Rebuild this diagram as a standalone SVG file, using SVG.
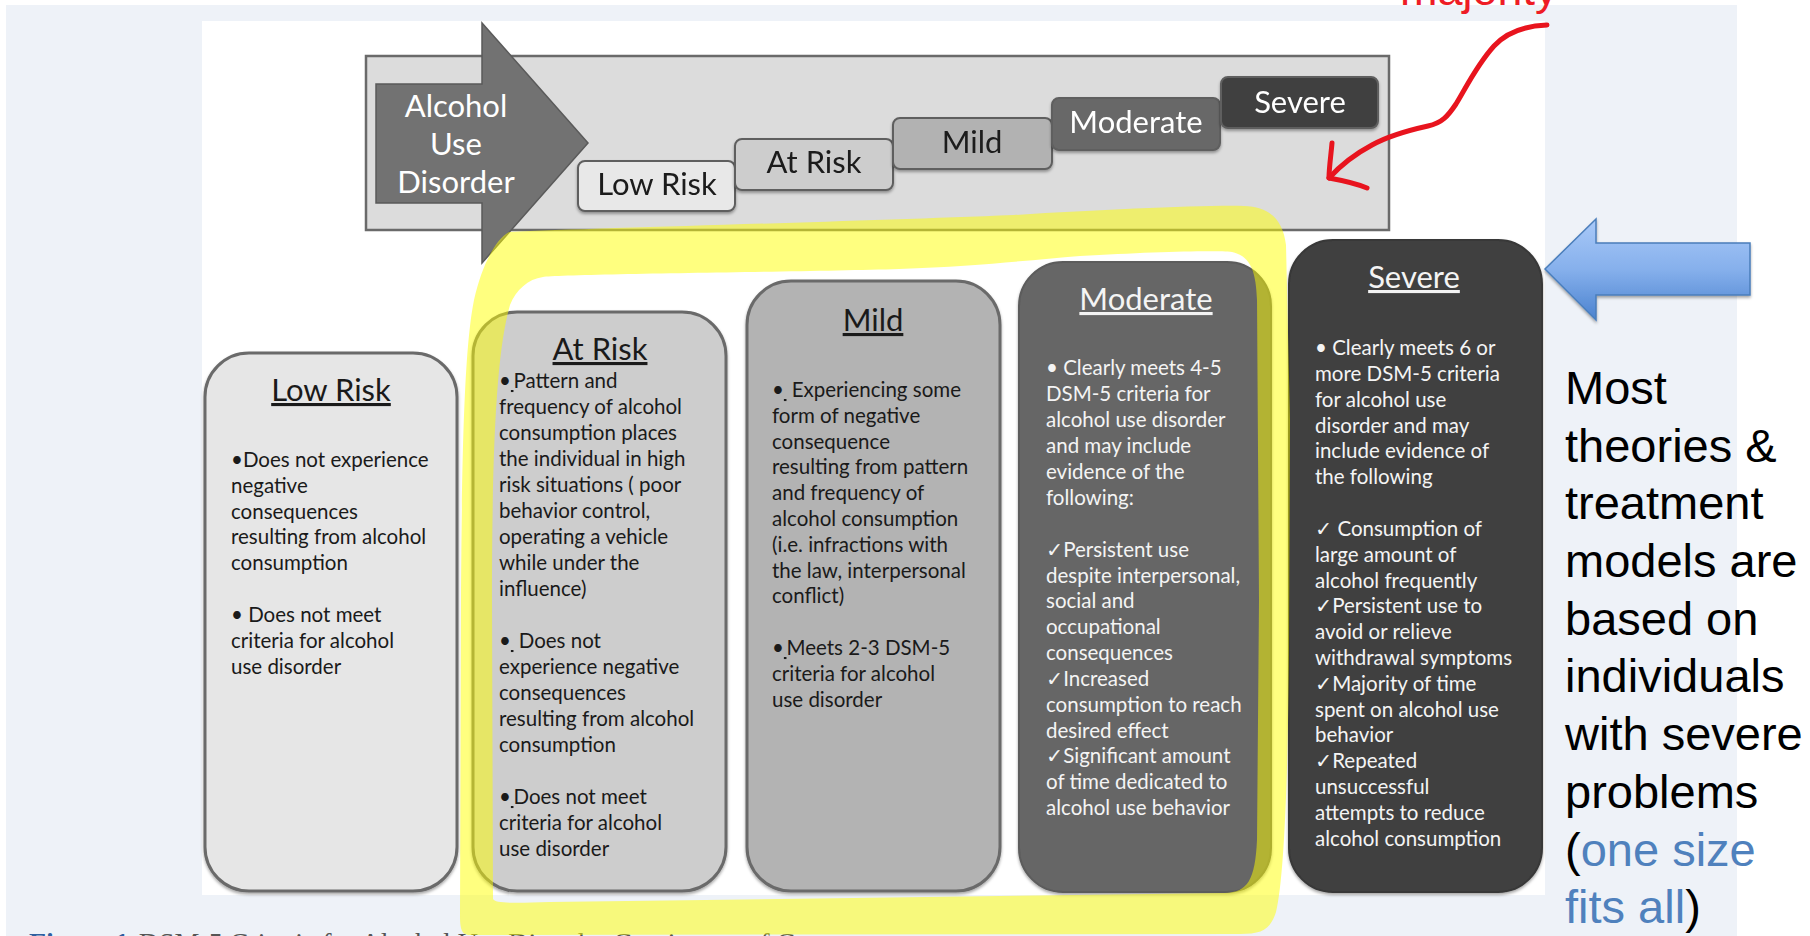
<svg xmlns="http://www.w3.org/2000/svg" width="1810" height="936" viewBox="0 0 1810 936">
<style>
.lbl{font-family:Lato,"Open Sans",sans-serif;font-size:31px;text-anchor:middle}
.title{font-family:Lato,"Open Sans",sans-serif;font-size:31px;text-anchor:middle;text-decoration:underline}
.body{font-family:Lato,"Open Sans","DejaVu Sans",sans-serif;font-size:20.5px}
.dk{fill:#1a1a1a}
.wt{fill:#f4f4f4}
.band{stroke:#5e5e5e;stroke-width:2}
.card{stroke:#6a6a6a;stroke-width:3}
.big{font-family:"Liberation Sans",Arial,sans-serif;font-size:47px;fill:#000}
.cap{font-family:"Liberation Serif","Times New Roman",serif;font-size:28px}
</style>
<defs>
<linearGradient id="blueGrad" x1="0" y1="0" x2="0" y2="1">
<stop offset="0" stop-color="#a9c9f8"/>
<stop offset="0.5" stop-color="#86b0ec"/>
<stop offset="1" stop-color="#4a82cf"/>
</linearGradient>
<filter id="sh" x="-10%" y="-10%" width="120%" height="130%">
<feDropShadow dx="0" dy="2" stdDeviation="1.5" flood-color="#000" flood-opacity="0.35"/>
</filter>
</defs>

<!-- slide background -->
<rect x="0" y="0" width="1810" height="936" fill="#ffffff"/>
<rect x="6" y="5" width="1731" height="931" fill="#eef2f8"/>
<rect x="202" y="21" width="1343" height="874" fill="#ffffff"/>

<!-- top band -->
<g id="band">
<rect x="366" y="56" width="1023" height="174" fill="#dcdcdc" stroke="#6a6a6a" stroke-width="2.5"/>
</g>

<g id="aud-arrow">
<polygon points="376,84 482,84 482,23 588,143 482,263 482,203 376,203" fill="#727272" stroke="#5a5a5a" stroke-width="1.5"/>
<text class="lbl" fill="#ffffff" x="456" y="117">Alcohol</text>
<text class="lbl" fill="#ffffff" x="456" y="155">Use</text>
<text class="lbl" fill="#ffffff" x="456" y="193">Disorder</text>
</g>

<g id="step-lowrisk" filter="url(#sh)">
<rect class="band" x="578" y="161" width="157" height="50" rx="7" fill="#e8e8e8"/>
<text class="lbl dk" x="657" y="195">Low Risk</text>
</g>
<g id="step-atrisk" filter="url(#sh)">
<rect class="band" x="735" y="139" width="158" height="51" rx="7" fill="#cdcdcd"/>
<text class="lbl dk" x="814" y="173">At Risk</text>
</g>
<g id="step-mild" filter="url(#sh)">
<rect class="band" x="893" y="118" width="159" height="51" rx="7" fill="#b2b2b2"/>
<text class="lbl dk" x="972" y="153">Mild</text>
</g>
<g id="step-moderate" filter="url(#sh)">
<rect class="band" x="1052" y="98" width="168" height="52" rx="7" fill="#686868"/>
<text class="lbl" fill="#ffffff" x="1136" y="133">Moderate</text>
</g>
<g id="step-severe" filter="url(#sh)">
<rect class="band" x="1221" y="77" width="157" height="51" rx="7" fill="#404040" stroke="#333"/>
<text class="lbl" fill="#ffffff" x="1300" y="113">Severe</text>
</g>

<!-- cards -->
<g id="card-lowrisk">
<rect class="card" x="205" y="353" width="252" height="538" rx="44" fill="#e6e6e6" filter="url(#sh)"/>
<text class="title dk" x="331" y="401">Low Risk</text>
<text class="body dk">
<tspan x="231" y="467">•Does not experience</tspan>
<tspan x="231" y="493">negative</tspan>
<tspan x="231" y="519">consequences</tspan>
<tspan x="231" y="544">resulting from alcohol</tspan>
<tspan x="231" y="570">consumption</tspan>
<tspan x="231" y="622">•  Does not meet</tspan>
<tspan x="231" y="648">criteria for alcohol</tspan>
<tspan x="231" y="674">use disorder</tspan>
</text>
</g>

<g id="card-atrisk">
<rect class="card" x="473" y="312" width="253" height="579" rx="44" fill="#cdcdcd" filter="url(#sh)"/>
<text class="title dk" x="600" y="360">At Risk</text>
<text class="body dk">
<tspan x="499" y="388">•<tspan text-decoration="underline">&#8201;</tspan>Pattern and</tspan>
<tspan x="499" y="414">frequency of alcohol</tspan>
<tspan x="499" y="440">consumption places</tspan>
<tspan x="499" y="466">the individual in high</tspan>
<tspan x="499" y="492">risk situations ( poor</tspan>
<tspan x="499" y="518">behavior control,</tspan>
<tspan x="499" y="544">operating a vehicle</tspan>
<tspan x="499" y="570">while under the</tspan>
<tspan x="499" y="596">influence)</tspan>
<tspan x="499" y="648">•<tspan text-decoration="underline">&#8201;</tspan> Does not</tspan>
<tspan x="499" y="674">experience negative</tspan>
<tspan x="499" y="700">consequences</tspan>
<tspan x="499" y="726">resulting from alcohol</tspan>
<tspan x="499" y="752">consumption</tspan>
<tspan x="499" y="804">•<tspan text-decoration="underline">&#8201;</tspan>Does not meet</tspan>
<tspan x="499" y="830">criteria for alcohol</tspan>
<tspan x="499" y="856">use disorder</tspan>
</text>
</g>

<g id="card-mild">
<rect class="card" x="747" y="281" width="253" height="610" rx="44" fill="#b3b3b3" filter="url(#sh)"/>
<text class="title dk" x="873" y="331">Mild</text>
<text class="body dk">
<tspan x="772" y="397">•<tspan text-decoration="underline">&#8201;</tspan> Experiencing some</tspan>
<tspan x="772" y="423">form of negative</tspan>
<tspan x="772" y="449">consequence</tspan>
<tspan x="772" y="474">resulting from pattern</tspan>
<tspan x="772" y="500">and frequency of</tspan>
<tspan x="772" y="526">alcohol consumption</tspan>
<tspan x="772" y="552">(i.e. infractions with</tspan>
<tspan x="772" y="578">the law, interpersonal</tspan>
<tspan x="772" y="603">conflict)</tspan>
<tspan x="772" y="655">•<tspan text-decoration="underline">&#8201;</tspan>Meets 2-3 DSM-5</tspan>
<tspan x="772" y="681">criteria for alcohol</tspan>
<tspan x="772" y="707">use disorder</tspan>
</text>
</g>

<g id="card-moderate">
<rect x="1019" y="262" width="252" height="630" rx="44" fill="#666666" stroke="#5c5c5c" stroke-width="2" filter="url(#sh)"/>
<text class="title wt" x="1146" y="310">Moderate</text>
<text class="body wt">
<tspan x="1046" y="375">• Clearly meets  4-5</tspan>
<tspan x="1046" y="401">DSM-5 criteria for</tspan>
<tspan x="1046" y="427">alcohol use disorder</tspan>
<tspan x="1046" y="453">and may include</tspan>
<tspan x="1046" y="479">evidence of the</tspan>
<tspan x="1046" y="505">following:</tspan>
<tspan x="1046" y="557">✓Persistent use</tspan>
<tspan x="1046" y="583">despite interpersonal,</tspan>
<tspan x="1046" y="608">social and</tspan>
<tspan x="1046" y="634">occupational</tspan>
<tspan x="1046" y="660">consequences</tspan>
<tspan x="1046" y="686">✓Increased</tspan>
<tspan x="1046" y="712">consumption to reach</tspan>
<tspan x="1046" y="738">desired effect</tspan>
<tspan x="1046" y="763">✓Significant amount</tspan>
<tspan x="1046" y="789">of time dedicated to</tspan>
<tspan x="1046" y="815">alcohol use behavior</tspan>
</text>
</g>

<g id="card-severe">
<rect x="1289" y="240" width="253" height="652" rx="44" fill="#404040" stroke="#383838" stroke-width="2" filter="url(#sh)"/>
<text class="title wt" x="1414" y="288">Severe</text>
<text class="body wt">
<tspan x="1315" y="355">• Clearly meets  6 or</tspan>
<tspan x="1315" y="381">more DSM-5 criteria</tspan>
<tspan x="1315" y="407">for alcohol use</tspan>
<tspan x="1315" y="433">disorder and may</tspan>
<tspan x="1315" y="458">include evidence  of</tspan>
<tspan x="1315" y="484">the following</tspan>
<tspan x="1315" y="536">✓ Consumption of</tspan>
<tspan x="1315" y="562">large amount of</tspan>
<tspan x="1315" y="588">alcohol frequently</tspan>
<tspan x="1315" y="613">✓Persistent use to</tspan>
<tspan x="1315" y="639">avoid or relieve</tspan>
<tspan x="1315" y="665">withdrawal symptoms</tspan>
<tspan x="1315" y="691">✓Majority of time</tspan>
<tspan x="1315" y="717">spent on alcohol use</tspan>
<tspan x="1315" y="742">behavior</tspan>
<tspan x="1315" y="768">✓Repeated</tspan>
<tspan x="1315" y="794">unsuccessful</tspan>
<tspan x="1315" y="820">attempts to reduce</tspan>
<tspan x="1315" y="846">alcohol consumption</tspan>
</text>
</g>

<!-- caption (cut off at bottom, as in the reference) -->
<g id="caption">
<text class="cap" x="29" y="952"><tspan fill="#2f5f9f" font-weight="bold">Figure 1</tspan><tspan fill="#555555" dx="10">DSM-5 Criteria for Alcohol Use Disorder Continuum of Care</tspan></text>
</g>

<!-- yellow highlighter -->
<g id="highlight">
<path fill="#ffff00" fill-opacity="0.5" fill-rule="evenodd" d="M509,232 C600,228 842,222 1014,215 C1100,210 1200,205 1244,206 C1270,207 1283,220 1286,245 L1290,420 L1289,650 C1288,780 1284,880 1276,912 C1270,930 1262,934 1240,934 L470,935 C462,935 460,930 460,915 L461,600 C462,420 466,340 474,300 C482,265 495,240 509,232 Z M543,277 C560,274 800,272 899,269 C980,266 1030,260 1080,256 C1150,252 1215,250 1232,252 C1250,256 1256,270 1257,300 L1259,600 L1257,840 C1255,880 1248,892 1225,893 L550,902 C520,903 495,904 493,899 L492,600 C492,440 497,350 510,305 C516,290 528,279 543,277 Z"/>
</g>

<!-- blue arrow -->
<g id="blue-arrow">
<polygon points="1545,269 1596,219 1596,243 1750,243 1750,295 1596,295 1596,320" fill="url(#blueGrad)" stroke="#4a7ebb" stroke-width="1.5" filter="url(#sh)"/>
</g>

<!-- right note -->
<g id="note">
<text class="big" x="1565" y="404">Most</text>
<text class="big" x="1565" y="462">theories &amp;</text>
<text class="big" x="1565" y="519">treatment</text>
<text class="big" x="1565" y="577">models are</text>
<text class="big" x="1565" y="635">based on</text>
<text class="big" x="1565" y="692">individuals</text>
<text class="big" x="1565" y="750">with severe</text>
<text class="big" x="1565" y="808">problems</text>
<text class="big" x="1565" y="866">(<tspan fill="#4f81bd">one size</tspan></text>
<text class="big" x="1565" y="923"><tspan fill="#4f81bd">fits all</tspan>)</text>
</g>

<!-- red annotation -->
<g id="red-note">
<text x="1400" y="5" font-family="'Liberation Sans',Arial,sans-serif" font-size="45" fill="#ee1c25">majority</text>
</g>
<g id="connectors" fill="none" stroke="#e8141e" stroke-width="5" stroke-linecap="round" stroke-linejoin="round">
<path d="M1547,25 C1522,26 1505,34 1494,46 C1476,66 1466,88 1456,104 C1448,116 1442,123 1428,126 C1410,130 1390,135 1372,145 C1355,154 1340,166 1329,178"/>
<path d="M1332,143 C1331,155 1329,168 1329,178 C1340,180 1355,183 1367,188"/>
</g>
</svg>
